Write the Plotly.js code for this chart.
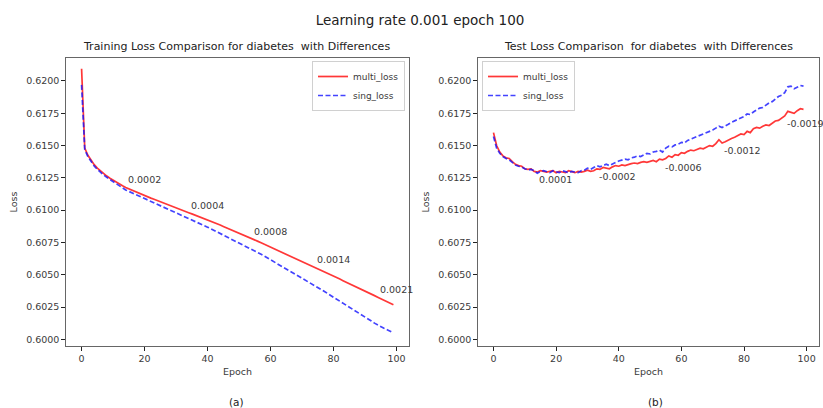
<!DOCTYPE html>
<html>
<head>
<meta charset="utf-8">
<script src="https://cdn.plot.ly/plotly-3.0.1.min.js"></script>
<style>html,body{margin:0;padding:0;background:#fff;}#chart{width:823px;height:408px;}</style>
</head>
<body>
<div id="chart"></div>
<script>
// ---- data ----
const epochs = Array.from({length: 100}, (_, i) => i);

const trainMulti = [
0.62095,0.61480,0.61425,0.61385,0.61352,0.61325,0.61302,0.61282,0.61264,0.61247,
0.61231,0.61216,0.61202,0.61189,0.61176,0.61165,0.61154,0.61143,0.61133,0.61123,
0.61113,0.61103,0.61093,0.61084,0.61074,0.61065,0.61055,0.61046,0.61036,0.61027,
0.61018,0.61008,0.60999,0.60990,0.60980,0.60971,0.60962,0.60953,0.60944,0.60935,
0.60925,0.60915,0.60905,0.60895,0.60885,0.60874,0.60864,0.60854,0.60843,0.60833,
0.60822,0.60812,0.60801,0.60790,0.60780,0.60769,0.60758,0.60747,0.60736,0.60725,
0.60714,0.60703,0.60692,0.60681,0.60670,0.60659,0.60648,0.60637,0.60625,0.60614,
0.60603,0.60592,0.60581,0.60569,0.60558,0.60546,0.60535,0.60523,0.60512,0.60500,
0.60489,0.60477,0.60466,0.60454,0.60443,0.60431,0.60419,0.60408,0.60396,0.60385,
0.60373,0.60361,0.60350,0.60338,0.60326,0.60315,0.60303,0.60291,0.60280,0.60268];

const trainSing = [
0.61970,0.61470,0.61415,0.61375,0.61342,0.61315,0.61292,0.61272,0.61254,0.61237,
0.61219,0.61202,0.61186,0.61171,0.61156,0.61145,0.61134,0.61124,0.61113,0.61102,
0.61091,0.61080,0.61070,0.61059,0.61048,0.61037,0.61026,0.61016,0.61005,0.60994,
0.60983,0.60972,0.60962,0.60951,0.60940,0.60928,0.60916,0.60904,0.60892,0.60880,
0.60868,0.60856,0.60844,0.60832,0.60820,0.60808,0.60796,0.60784,0.60772,0.60760,
0.60748,0.60736,0.60724,0.60712,0.60700,0.60686,0.60672,0.60658,0.60644,0.60630,
0.60615,0.60601,0.60587,0.60573,0.60559,0.60545,0.60531,0.60517,0.60503,0.60489,
0.60474,0.60460,0.60446,0.60432,0.60418,0.60403,0.60387,0.60372,0.60356,0.60341,
0.60326,0.60310,0.60295,0.60279,0.60264,0.60249,0.60233,0.60218,0.60202,0.60187,
0.60172,0.60156,0.60141,0.60125,0.60110,0.60098,0.60086,0.60074,0.60062,0.60050];

const testMulti = [
0.61600,0.61500,0.61450,0.61420,0.61405,0.61400,0.61375,0.61355,0.61345,0.61340,
0.61320,0.61315,0.61320,0.61300,0.61295,0.61305,0.61300,0.61295,0.61300,0.61305,
0.61290,0.61300,0.61295,0.61290,0.61305,0.61295,0.61290,0.61300,0.61295,0.61300,
0.61310,0.61300,0.61305,0.61320,0.61315,0.61330,0.61325,0.61320,0.61335,0.61345,
0.61340,0.61350,0.61345,0.61355,0.61360,0.61365,0.61360,0.61370,0.61375,0.61370,
0.61380,0.61385,0.61375,0.61395,0.61390,0.61400,0.61420,0.61410,0.61430,0.61425,
0.61445,0.61440,0.61455,0.61465,0.61460,0.61470,0.61480,0.61475,0.61490,0.61500,
0.61495,0.61515,0.61545,0.61520,0.61530,0.61545,0.61555,0.61565,0.61575,0.61590,
0.61585,0.61610,0.61600,0.61630,0.61640,0.61635,0.61650,0.61660,0.61655,0.61675,
0.61690,0.61695,0.61710,0.61730,0.61765,0.61760,0.61750,0.61770,0.61785,0.61780];

const testSing = [
0.61570,0.61480,0.61440,0.61415,0.61400,0.61390,0.61370,0.61350,0.61340,0.61335,
0.61320,0.61310,0.61315,0.61305,0.61285,0.61300,0.61305,0.61295,0.61290,0.61305,
0.61300,0.61290,0.61305,0.61295,0.61290,0.61300,0.61295,0.61290,0.61305,0.61310,
0.61325,0.61315,0.61330,0.61345,0.61335,0.61345,0.61355,0.61345,0.61360,0.61370,
0.61380,0.61385,0.61395,0.61390,0.61405,0.61410,0.61420,0.61415,0.61430,0.61440,
0.61435,0.61450,0.61455,0.61465,0.61450,0.61480,0.61495,0.61490,0.61505,0.61510,
0.61525,0.61520,0.61540,0.61550,0.61560,0.61565,0.61580,0.61585,0.61600,0.61610,
0.61620,0.61635,0.61650,0.61640,0.61650,0.61665,0.61680,0.61690,0.61705,0.61715,
0.61725,0.61745,0.61740,0.61760,0.61775,0.61790,0.61795,0.61815,0.61830,0.61840,
0.61860,0.61880,0.61890,0.61910,0.61955,0.61960,0.61940,0.61955,0.61965,0.61960];

const trainLabelEpochs = [14, 34, 54, 74, 94];
const trainDiffLabels = ['0.0002', '0.0004', '0.0008', '0.0014', '0.0021'];
const testLabelEpochs = [14, 33, 54, 73, 93];
const testDiffLabels = ['0.0001', '-0.0002', '-0.0006', '-0.0012', '-0.0019'];

const yTickVals = [0.6000, 0.6025, 0.6050, 0.6075, 0.6100, 0.6125, 0.6150, 0.6175, 0.6200];
const xTickVals = [0, 20, 40, 60, 80, 100];

// ---- chart ----
const FONT = 'DejaVu Sans, sans-serif';
const TXT = '#3a3a3a';
const W = 823, H = 408;

function line(x, y, name, color, dash, xa, ya, legend) {
  return {x, y, name, type: 'scatter', mode: 'lines', xaxis: xa, yaxis: ya,
    line: {color, width: 1.7, dash}, showlegend: true, legend};
}

const RED = 'rgba(255,20,20,0.85)';
const BLUE = 'rgba(20,20,255,0.8)';
const DASH = '5px,2.5px';
const traces = [
  line(epochs, trainMulti, 'multi_loss', RED, 'solid', 'x', 'y', 'legend'),
  line(epochs, trainSing, 'sing_loss', BLUE, DASH, 'x', 'y', 'legend'),
  line(epochs, testMulti, 'multi_loss', RED, 'solid', 'x2', 'y2', 'legend2'),
  line(epochs, testSing, 'sing_loss', BLUE, DASH, 'x2', 'y2', 'legend2'),
];

function xAxis(domain, anchor) {
  return {domain, anchor, range: [-4.95, 103.95], tickvals: xTickVals,
    ticks: 'outside', ticklen: 3.5, tickwidth: 1, tickcolor: '#222',
    showline: true, linecolor: '#666', linewidth: 1.2, mirror: true,
    showgrid: false, zeroline: false,
    tickfont: {family: FONT, size: 9.5, color: TXT},
    title: {text: 'Epoch', font: {family: FONT, size: 9.5, color: TXT}, standoff: 5}};
}
function yAxis(domain, anchor) {
  return {domain, anchor, range: [0.59948, 0.62178], tickvals: yTickVals, tickformat: '.4f',
    ticks: 'outside', ticklen: 3.5, tickwidth: 1, tickcolor: '#222',
    showline: true, linecolor: '#666', linewidth: 1.2, mirror: true,
    showgrid: false, zeroline: false,
    tickfont: {family: FONT, size: 9.5, color: TXT},
    title: {text: 'Loss', font: {family: FONT, size: 9.5, color: TXT}, standoff: 6}};
}

const yDom = [1 - 346 / H, 1 - 58 / H];
const annotations = [];
trainLabelEpochs.forEach((e, i) => annotations.push({
  x: e, y: trainMulti[e], xref: 'x', yref: 'y', text: trainDiffLabels[i], showarrow: false,
  xanchor: 'left', yanchor: 'bottom', font: {family: FONT, size: 9.5, color: TXT}}));
testLabelEpochs.forEach((e, i) => annotations.push({
  x: e, y: testMulti[e], xref: 'x2', yref: 'y2', text: testDiffLabels[i], showarrow: false,
  xanchor: 'left', yanchor: 'top', font: {family: FONT, size: 9.5, color: TXT}}));

// subplot titles and captions
annotations.push({x: 237 / W, y: 1 - 46 / H, xref: 'paper', yref: 'paper', showarrow: false,
  text: 'Training Loss Comparison for diabetes  with Differences', xanchor: 'center', yanchor: 'middle',
  font: {family: FONT, size: 11, color: '#222'}});
annotations.push({x: 648 / W, y: 1 - 46 / H, xref: 'paper', yref: 'paper', showarrow: false,
  text: 'Test Loss Comparison  for diabetes  with Differences', xanchor: 'center', yanchor: 'middle',
  font: {family: FONT, size: 11, color: '#222'}});
annotations.push({x: 237 / W, y: 1 - 402 / H, xref: 'paper', yref: 'paper', showarrow: false,
  text: '(a)', xanchor: 'center', yanchor: 'middle', font: {family: FONT, size: 10.5, color: '#222'}});
annotations.push({x: 655 / W, y: 1 - 402 / H, xref: 'paper', yref: 'paper', showarrow: false,
  text: '(b)', xanchor: 'center', yanchor: 'middle', font: {family: FONT, size: 10.5, color: '#222'}});

const legendCommon = {bgcolor: 'rgba(255,255,255,0.9)', bordercolor: '#d0d0d0', borderwidth: 1,
  font: {family: FONT, size: 9, color: TXT}, itemwidth: 30, tracegroupgap: 0};

const layout = {
  width: W, height: H,
  margin: {l: 0, r: 0, t: 0, b: 0},
  paper_bgcolor: '#fff', plot_bgcolor: '#fff',
  title: {text: 'Learning rate 0.001 epoch 100', x: 420 / W, xanchor: 'center',
    y: 1 - 20 / H, yanchor: 'middle', font: {family: FONT, size: 13.5, color: '#222'}},
  xaxis: xAxis([66 / W, 409 / W], 'y'),
  yaxis: yAxis(yDom, 'x'),
  xaxis2: xAxis([478 / W, 819 / W], 'y2'),
  yaxis2: yAxis(yDom, 'x2'),
  legend: Object.assign({x: 405 / W, y: 1 - 61 / H, xanchor: 'right', yanchor: 'top'}, legendCommon),
  legend2: Object.assign({x: 482 / W, y: 1 - 61 / H, xanchor: 'left', yanchor: 'top'}, legendCommon),
  annotations,
  showlegend: true
};

Plotly.newPlot('chart', traces, layout, {staticPlot: true, displayModeBar: false});
</script>
</body>
</html>
